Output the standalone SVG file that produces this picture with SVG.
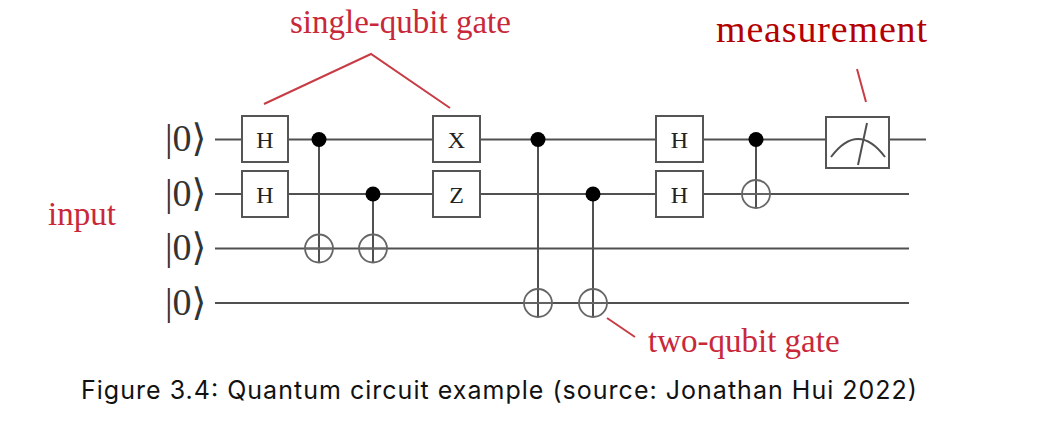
<svg xmlns="http://www.w3.org/2000/svg" width="1056" height="434" viewBox="0 0 1056 434">
<style>
.wire{stroke:#505050;stroke-width:2;fill:none}
.ctl{stroke:#505050;stroke-width:2;fill:none}
.box{fill:#fff;stroke:#555;stroke-width:2}
.dot{fill:#000}
.tgt{fill:none;stroke:#666;stroke-width:1.8}
.gl{font-family:"Liberation Serif","DejaVu Serif",serif;font-size:24px;fill:#222;text-anchor:middle}
.ket{font-family:"Liberation Serif","DejaVu Serif",serif;font-size:38px;fill:#333}
.red{font-family:"Liberation Serif","DejaVu Serif",serif;font-size:33px;fill:#c8283a}
.ptr{stroke:#c83c46;stroke-width:2;fill:none}
.cap{font-family:Inter,"Liberation Sans",sans-serif;font-size:25px;fill:#111}
</style>
<rect width="1056" height="434" fill="#fff"/>
<g id="connectors">
<line class="wire" x1="215" y1="139.5" x2="926" y2="139.5"/>
<line class="wire" x1="215" y1="194" x2="909" y2="194"/>
<line class="wire" x1="215" y1="248.5" x2="909" y2="248.5"/>
<line class="wire" x1="215" y1="303" x2="909" y2="303"/>
<line class="ctl" x1="319" y1="139.5" x2="319" y2="262.5"/>
<line class="ctl" x1="373" y1="194" x2="373" y2="262.5"/>
<line class="ctl" x1="538" y1="139.5" x2="538" y2="317"/>
<line class="ctl" x1="593" y1="194" x2="593" y2="317"/>
<line class="ctl" x1="756" y1="139.5" x2="756" y2="208"/>
<path class="ptr" d="M264,104 L371,54 L450,108"/>
<line class="ptr" x1="857" y1="69" x2="866" y2="102"/>
<line class="ptr" x1="607" y1="318" x2="635" y2="337"/>
</g>
<g id="inputs">
<text class="ket" x="165" y="151">|0⟩</text>
<text class="ket" x="165" y="205.5">|0⟩</text>
<text class="ket" x="165" y="260">|0⟩</text>
<text class="ket" x="165" y="314.5">|0⟩</text>
</g>
<g id="h1"><rect class="box" x="242" y="116" width="46" height="46"/><text class="gl" x="265" y="147.5">H</text></g>
<g id="h2"><rect class="box" x="242" y="171" width="46" height="46"/><text class="gl" x="265" y="202.5">H</text></g>
<g id="cnot1"><circle class="dot" cx="319" cy="139.5" r="7.5"/><circle class="tgt" cx="319" cy="248.5" r="14"/><line class="tgt" x1="305" y1="248.5" x2="333" y2="248.5"/></g>
<g id="cnot2"><circle class="dot" cx="373" cy="194" r="7.5"/><circle class="tgt" cx="373" cy="248.5" r="14"/><line class="tgt" x1="359" y1="248.5" x2="387" y2="248.5"/></g>
<g id="x"><rect class="box" x="433" y="116" width="47" height="46"/><text class="gl" x="456.5" y="147.5">X</text></g>
<g id="z"><rect class="box" x="433" y="171" width="47" height="46"/><text class="gl" x="456.5" y="202.5">Z</text></g>
<g id="cnot3"><circle class="dot" cx="538" cy="139.5" r="7.5"/><circle class="tgt" cx="538" cy="303" r="14"/><line class="tgt" x1="524" y1="303" x2="552" y2="303"/></g>
<g id="cnot4"><circle class="dot" cx="593" cy="194" r="7.5"/><circle class="tgt" cx="593" cy="303" r="14"/><line class="tgt" x1="579" y1="303" x2="607" y2="303"/></g>
<g id="h3"><rect class="box" x="656" y="116" width="47" height="46"/><text class="gl" x="679.5" y="147.5">H</text></g>
<g id="h4"><rect class="box" x="656" y="171" width="47" height="46"/><text class="gl" x="679.5" y="202.5">H</text></g>
<g id="cnot5"><circle class="dot" cx="756" cy="139.5" r="7.5"/><circle class="tgt" cx="756" cy="194" r="14"/><line class="tgt" x1="742" y1="194" x2="770" y2="194"/></g>
<g id="meter"><rect class="box" x="826" y="117" width="63" height="51"/><path class="ctl" d="M831,157 Q858,121 885,157"/><line class="ctl" x1="858" y1="165" x2="867" y2="123"/></g>
<g id="labels">
<text class="red" x="290" y="33">single-qubit gate</text>
<text x="716" y="42" style="font-family:'Liberation Serif','DejaVu Serif',serif;font-size:38px;fill:#b40000" textLength="211">measurement</text>
<text class="red" x="48" y="225">input</text>
<text class="red" x="648" y="352">two-qubit gate</text>
</g>
<text class="cap" x="81" y="399" textLength="836">Figure 3.4: Quantum circuit example (source: Jonathan Hui 2022)</text>
</svg>
